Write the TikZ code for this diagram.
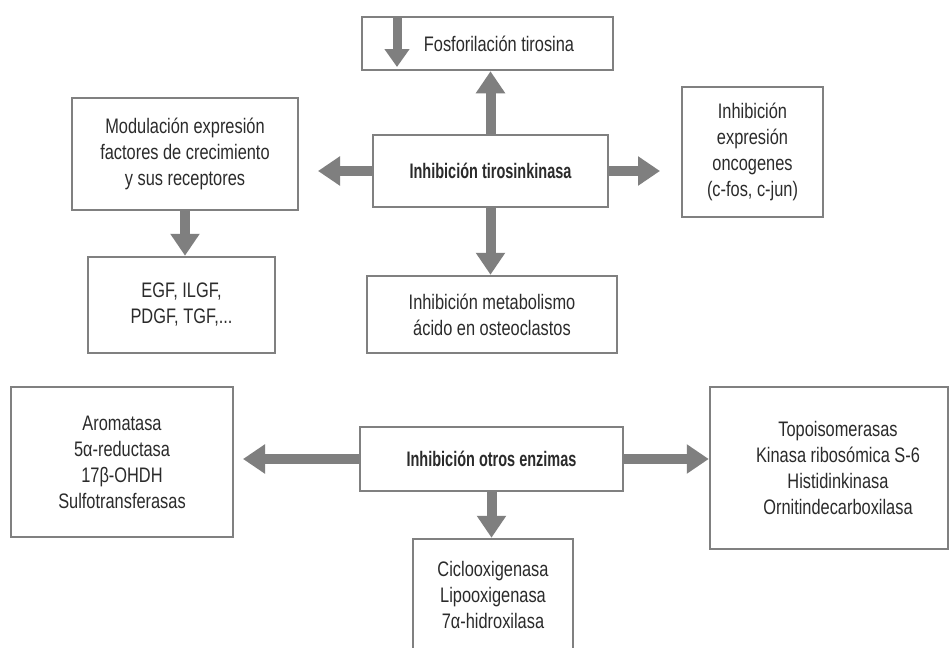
\documentclass[tikz,border=0pt]{standalone}
\usepackage{fontspec}
\setmainfont{Liberation Sans}[FakeStretch=0.78]
\newfontfamily\boldcond{Liberation Sans}[FakeStretch=0.69]
\usetikzlibrary{arrows.meta}
\definecolor{linegray}{HTML}{808080}
\definecolor{arrowgray}{HTML}{7F7F7F}
\definecolor{textgray}{HTML}{2B2B2B}
\begin{document}
\begin{tikzpicture}[x=1pt,y=-1pt,
  box/.style={draw=linegray, line width=2.5pt, align=center, inner sep=0pt,
    text=textgray, font=\fontsize{21}{26}\selectfont},
  boldbox/.style={box, font=\boldcond\bfseries\fontsize{21}{26}\selectfont},
  arr/.style={draw=arrowgray, line width=10pt, -{Triangle[width=28pt,length=22pt]}},
  smallarr/.style={draw=arrowgray, line width=9pt, -{Triangle[width=24pt,length=18pt]}}
]
\useasboundingbox (0,0) rectangle (951,648);
\fill[white] (0,0) rectangle (951,648);

% top group
\node[box, minimum width=251pt, minimum height=53pt] (fos) at (487.5,43.5)
  {\hspace*{23pt}Fosforilación tirosina};
\node[boldbox, minimum width=235pt, minimum height=72pt] (tk) at (490.5,171)
  {Inhibición tirosinkinasa};
\node[box, minimum width=226pt, minimum height=112pt] (mod) at (185,154)
  {Modulación expresión\\factores de crecimiento\\y sus receptores};
\node[box, minimum width=187pt, minimum height=96pt] (egf) at (181.5,305)
  {EGF, ILGF,\\PDGF, TGF,...};
\node[box, minimum width=250pt, minimum height=77pt] (met) at (492,314.5)
  {Inhibición metabolismo\\ácido en osteoclastos};
\node[box, minimum width=141pt, minimum height=130pt] (exp) at (752.5,152)
  {Inhibición\\expresión\\oncogenes\\(c-fos, c-jun)};

% bottom group
\node[boldbox, minimum width=263pt, minimum height=64pt] (otr) at (491.5,459)
  {Inhibición otros enzimas};
\node[box, minimum width=222pt, minimum height=150pt] (aro) at (122,462)
  {Aromatasa\\5α-reductasa\\17β-OHDH\\Sulfotransferasas};
\node[box, minimum width=238pt, minimum height=162pt] (topo) at (829,468)
  {\hspace*{18pt}Topoisomerasas\\\hspace*{18pt}Kinasa ribosómica S-6\\\hspace*{18pt}Histidinkinasa\\\hspace*{18pt}Ornitindecarboxilasa};
\node[box, minimum width=160pt, minimum height=111pt] (cic) at (493,594.5)
  {Ciclooxigenasa\\Lipooxigenasa\\7α-hidroxilasa};

% free arrow ends
\coordinate (fosA) at (397,17);
\coordinate (fosB) at (397,67);
\coordinate (tkL) at (318,171);
\coordinate (tkR) at (660,171);
\coordinate (otrL) at (243,459);

% connectors
\draw[smallarr] (fosA) -- (fosB);
\draw[arr] (tk.north) -- (tk.north |- fos.south);
\draw[arr] (tk.west) -- (tkL);
\draw[arr] (tk.east) -- (tkR);
\draw[arr] (tk.south) -- (tk.south |- met.north);
\draw[arr] (mod.south) -- (mod.south |- egf.north);
\draw[arr] (otr.west) -- (otrL);
\draw[arr] (otr.east) -- (otr.east -| topo.west);
\draw[arr] (otr.south) -- (otr.south |- cic.north);
\end{tikzpicture}
\end{document}
